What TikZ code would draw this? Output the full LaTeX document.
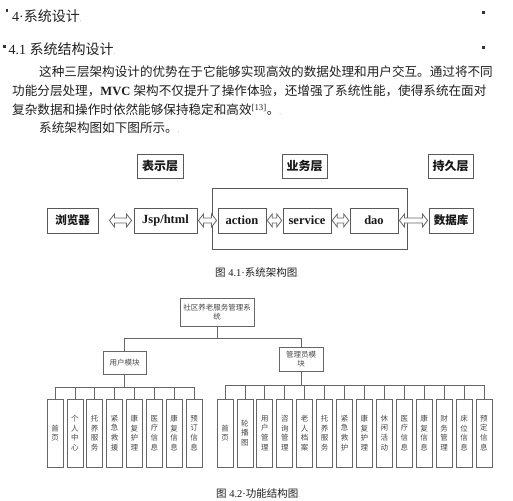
\documentclass[tikz,border=0pt]{standalone}
\usepackage{fontspec}
\setmainfont{Liberation Serif}
\newfontfamily\cjk{Noto Sans CJK SC}
\usetikzlibrary{calc}
\newcommand\zh[1]{{\cjk #1}}
\newcommand\pmark{{\color{black!45}\fontsize{7}{7}\selectfont .}}
\newcommand\hollowarrow[4]{%
  \draw[harrow] let \p1=($(#1.east)+(#3,0)$), \p2=($(#2.west)-(#4,0)$) in
    (\x1,\y1) -- (\x1+5pt,\y1+6.5pt) -- (\x1+5pt,\y1+2.5pt) -- (\x2-5pt,\y2+2.5pt)
    -- (\x2-5pt,\y2+6.5pt) -- (\x2,\y2) -- (\x2-5pt,\y2-6.5pt) -- (\x2-5pt,\y2-2.5pt)
    -- (\x1+5pt,\y1-2.5pt) -- (\x1+5pt,\y1-6.5pt) -- cycle;}
\begin{document}
\begin{tikzpicture}[x=1pt,y=-1pt,
  txt/.style={anchor=base west, inner sep=0, text=black!88},
  bodyfont/.style={font=\fontsize{12.6}{15}\selectfont},
  headfont/.style={font=\fontsize{14}{16}\selectfont},
  capfont/.style={font=\fontsize{10.5}{12}\selectfont},
  sqdot/.style={fill=black!80, draw=none},
  abox/.style={draw=black!65, line width=0.9pt, inner sep=0, minimum height=25pt,
    text=black!90, font=\bfseries\fontsize{12.5}{14}\selectfont},
  lbox/.style={abox, minimum height=24pt},
  harrow/.style={draw=black!60, line width=0.8pt, fill=white},
  fbox/.style={draw=black!60, line width=0.7pt, inner sep=0, align=center,
    text=black!72, font=\cjk\fontsize{7.5}{9}\selectfont},
  leafbox/.style={fbox, minimum width=16pt, minimum height=68pt,
    font=\cjk\fontsize{7.5}{9.7}\selectfont},
  conn/.style={draw=black!60, line width=0.7pt}
]
\useasboundingbox[fill=white] (0,0) rectangle (513,500);

% ---------- headings ----------
\fill[sqdot] (5.8,9.5) rectangle (8.3,12);
\fill[sqdot] (3,45.5) rectangle (5.5,48);
\fill[sqdot] (482,11.5) rectangle (484.5,14);
\fill[sqdot] (482,46.5) rectangle (484.5,49);
\node[txt, headfont] (h1) at (12,22) {4·\zh{系统设计}\pmark};
\node[txt, headfont] (h2) at (8.5,55) {4.1 \zh{系统结构设计}\pmark};

% ---------- paragraph ----------
\node[txt, bodyfont] (p1) at (39,76.5) {\zh{这种三层架构设计的优势在于它能够实现高效的数据处理和用户交互。通过将不同}};
\node[txt, bodyfont] (p2) at (12,95.5) {\zh{功能分层处理，}\textbf{MVC} \zh{架构不仅提升了操作体验，还增强了系统性能，使得系统在面对}};
\node[txt, bodyfont] (p3) at (12,114.5) {\zh{复杂数据和操作时依然能够保持稳定和高效}\textsuperscript{[13]}\zh{。}\pmark};
\node[txt, bodyfont] (p4) at (39,132.5) {\zh{系统架构图如下图所示。}\pmark};

% ---------- figure 4.1 ----------
\node[lbox, minimum width=46pt, font=\cjk\bfseries\fontsize{12}{14}\selectfont] (l1) at (160,166) {表示层};
\node[lbox, minimum width=45pt, font=\cjk\bfseries\fontsize{12}{14}\selectfont] (l2) at (304.5,166) {业务层};
\node[lbox, minimum width=45pt, font=\cjk\bfseries\fontsize{12}{14}\selectfont] (l3) at (450.5,166) {持久层};
\node[draw=black!65, line width=0.9pt, minimum width=195pt, minimum height=61pt, inner sep=0] (biz) at (309.5,218.5) {};
\node[abox, minimum width=51pt, font=\cjk\bfseries\fontsize{11.5}{14}\selectfont] (b1) at (72.5,220.5) {浏览器};
\node[abox, minimum width=63pt] (b2) at (165.5,220.5) {Jsp/html};
\node[abox, minimum width=48pt] (b3) at (242,220.5) {action};
\node[abox, minimum width=48pt] (b4) at (307,220.5) {service};
\node[abox, minimum width=48pt] (b5) at (374,220.5) {dao};
\node[abox, minimum width=44pt, font=\cjk\bfseries\fontsize{11.5}{14}\selectfont] (b6) at (451,220.5) {数据库};
\hollowarrow{b1}{b2}{11}{2}
\hollowarrow{b2}{b3}{1}{1}
\hollowarrow{b3}{b4}{0.8}{0.8}
\hollowarrow{b4}{b5}{0.8}{0.8}
\hollowarrow{b5}{b6}{1}{1}
\node[txt, capfont] (c1) at (215,276) {\zh{图} 4.1·\zh{系统架构图}\pmark};

% ---------- figure 4.2 ----------
\node[fbox, minimum width=74pt, minimum height=28pt] (top) at (217,312) {社区养老服务管理系\\统};
\node[fbox, minimum width=43pt, minimum height=23pt] (um) at (124.5,362.5) {用户模块};
\node[fbox, minimum width=44pt, minimum height=24pt] (am) at (301,359) {管理员模\\块};
\coordinate (j) at (217,338);
\draw[conn] (top.south) -- (j);
\draw[conn] (j) -| (um.north);
\draw[conn] (j) -| (am.north);
\coordinate (ub) at (124.5,387);
\coordinate (ab) at (301,385);
\draw[conn] (um.south) -- (ub);
\draw[conn] (am.south) -- (ab);
\foreach \t [count=\i] in {{首\\页},{个\\人\\中\\心},{托\\养\\服\\务},{紧\\急\\救\\援},{康\\复\\护\\理},{医\\疗\\信\\息},{康\\复\\信\\息},{预\\订\\信\\息}}{
  \node[leafbox] (u\i) at ({55+19.86*(\i-1)},433) {\t};
  \draw[conn] (ub) -| (u\i.north);
}
\foreach \t [count=\i] in {{首\\页},{轮\\播\\图},{用\\户\\管\\理},{咨\\询\\管\\理},{老\\人\\档\\案},{托\\养\\服\\务},{紧\\急\\救\\护},{康\\复\\护\\理},{休\\闲\\活\\动},{医\\疗\\信\\息},{康\\复\\信\\息},{财\\务\\管\\理},{床\\位\\信\\息},{预\\定\\信\\息}}{
  \node[leafbox] (a\i) at ({225+19.92*(\i-1)},433) {\t};
  \draw[conn] (ab) -| (a\i.north);
}
\node[txt, capfont] (c2) at (216,497) {\zh{图} 4.2·\zh{功能结构图}\pmark};
\end{tikzpicture}
\end{document}
